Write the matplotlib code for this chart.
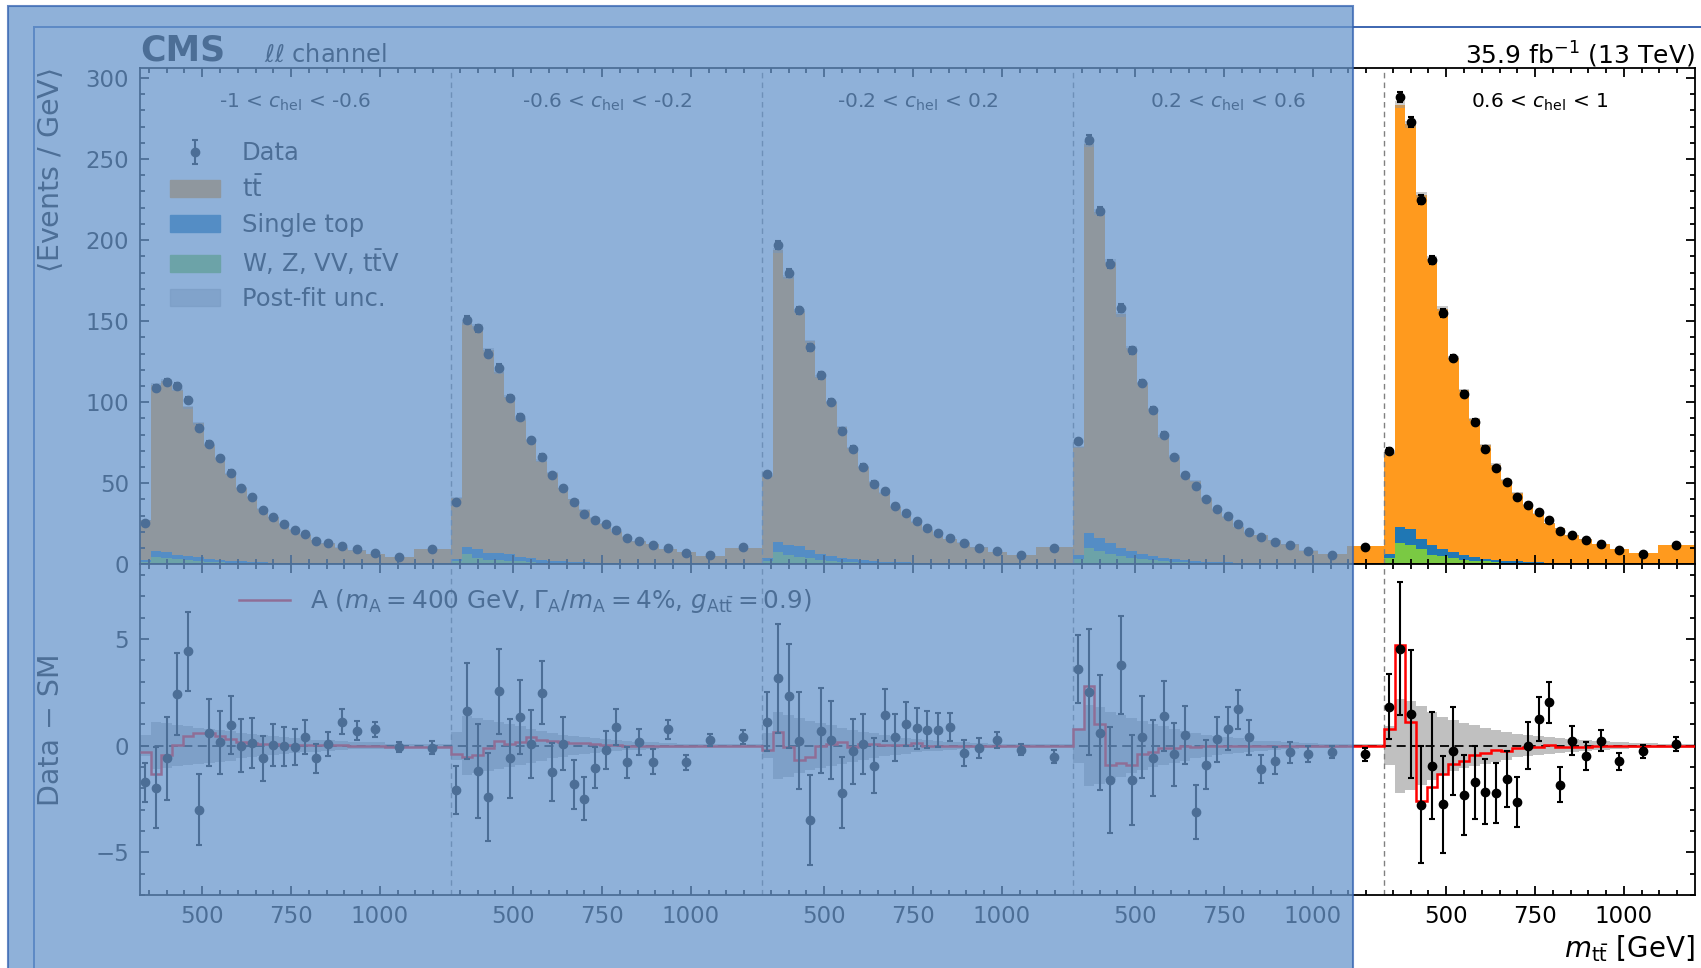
import numpy as np
import matplotlib
matplotlib.use("Agg")
import matplotlib.pyplot as plt
from matplotlib.patches import Rectangle, Patch
from matplotlib.lines import Line2D

plt.rcParams['font.family'] = 'DejaVu Sans'
plt.rcParams['mathtext.fontset'] = 'dejavusans'
plt.rcParams['axes.linewidth'] = 1.3

# m_tt binning of one c_hel block (GeV)
edges = [325, 355, 385, 415, 445, 475, 505, 535, 565, 595, 625, 655, 685, 715,
         745, 775, 805, 835, 875, 910, 960, 1015, 1095, 1200]
block_labels = ["-1 < $c_{\\mathrm{hel}}$ < -0.6", "-0.6 < $c_{\\mathrm{hel}}$ < -0.2",
                "-0.2 < $c_{\\mathrm{hel}}$ < 0.2", "0.2 < $c_{\\mathrm{hel}}$ < 0.6",
                "0.6 < $c_{\\mathrm{hel}}$ < 1"]

# data, events / GeV
d1 = [25.3, 108.7, 112.6, 110.2, 101.4, 84.0, 74.3, 65.5, 56.6, 47.3, 41.6, 33.5,
      29.0, 24.9, 21.2, 18.7, 14.4, 13.0, 11.3, 9.3, 7.2, 4.3, 9.3]
d2 = [38.7, 150.9, 145.5, 129.9, 121.3, 102.9, 90.8, 76.6, 66.5, 55.0, 46.9, 38.3,
      31.1, 27.5, 24.7, 21.0, 16.2, 14.4, 11.9, 10.1, 6.8, 5.6, 10.7]
d3 = [55.8, 197.0, 179.5, 156.6, 134.0, 116.5, 100.2, 82.5, 71.4, 60.3, 49.8, 45.3,
      36.0, 31.7, 26.9, 22.2, 19.1, 16.4, 13.0, 10.3, 8.0, 5.6, 10.3]
d4 = [76.0, 262.0, 218.0, 185.0, 158.0, 132.0, 112.0, 95.0, 80.0, 66.0, 55.0, 48.0,
      40.0, 34.0, 30.0, 25.0, 20.0, 17.0, 14.0, 12.0, 8.0, 6.0, 10.7]
d5 = [70.2, 288.2, 273.0, 225.0, 187.5, 155.0, 127.2, 105.0, 87.7, 71.2, 59.3, 50.6,
      41.4, 36.6, 32.5, 27.4, 20.4, 18.3, 15.0, 12.7, 8.8, 6.6, 11.9]

# data - SM
r1 = [-1.72, -1.97, -0.60, 2.41, 4.42, -3.0, 0.60, 0.16, 0.97, 0.0, 0.11, -0.60,
      0.03, -0.02, -0.08, 0.41, -0.60, 0.08, 1.13, 0.71, 0.77, -0.05, -0.09]
r2 = [-2.08, 1.63, -1.21, -2.41, 2.54, -0.58, 1.33, 0.08, 2.49, -1.25, 0.09, -1.82,
      -2.48, -1.03, -0.20, 0.86, -0.78, 0.16, -0.75, 0.77, -0.78, 0.27, 0.41]
r3 = [1.13, 3.16, 2.34, 0.24, -3.49, 0.71, 0.27, -2.2, -0.27, 0.08, -0.95, 1.44,
      0.39, 1.0, 0.81, 0.75, 0.75, 0.88, -0.34, -0.11, 0.28, -0.19, -0.52]
r4 = [3.6, 2.5, 0.6, -1.6, 3.8, -1.6, 0.4, -0.6, 1.4, -0.4, 0.5, -3.1,
      -0.9, 0.3, 0.8, 1.7, 0.4, -1.1, -0.7, -0.3, -0.4, -0.3, -0.41]
r5 = [1.83, 4.55, 1.49, -2.77, -0.94, -2.74, -0.27, -2.30, -1.72, -2.15, -2.24, -1.57,
      -2.66, 0.0, 1.25, 2.04, -1.83, 0.24, -0.49, 0.24, -0.74, -0.27, 0.08]

# single top
st1 = [1.4, 3.4, 3.6, 3.0, 2.6, 2.2, 1.9, 1.6, 1.3, 1.1, 0.9, 0.8, 0.6, 0.5, 0.4, 0.35,
       0.3, 0.25, 0.2, 0.15, 0.1, 0.08, 0.1]
st2 = [1.2, 4.6, 5.1, 4.3, 4.2, 4.0, 2.5, 2.3, 1.6, 1.4, 1.1, 0.9, 0.7, 0.6, 0.5, 0.4,
       0.35, 0.3, 0.25, 0.2, 0.15, 0.1, 0.15]
st3 = [1.6, 6.2, 6.2, 6.5, 5.5, 3.9, 3.2, 2.4, 2.0, 1.6, 1.3, 1.0, 0.8, 0.7, 0.6, 0.5,
       0.4, 0.35, 0.3, 0.25, 0.2, 0.15, 0.15]
st4 = [2.5, 9.5, 8.0, 6.5, 5.2, 4.2, 3.4, 2.7, 2.1, 1.7, 1.4, 1.1, 0.9, 0.7, 0.6, 0.5,
       0.4, 0.35, 0.3, 0.25, 0.2, 0.15, 0.15]
st5 = [2.5, 10.2, 10.0, 6.4, 6.4, 4.4, 3.6, 2.7, 2.1, 1.6, 1.5, 1.2, 0.9, 0.7, 0.6, 0.5,
       0.4, 0.35, 0.3, 0.25, 0.2, 0.15, 0.15]

# W, Z, VV, ttV
wz1 = [1.2, 4.5, 3.8, 3.0, 2.4, 2.0, 1.6, 1.3, 1.0, 0.8, 0.7, 0.6, 0.5, 0.4, 0.35, 0.3,
       0.25, 0.2, 0.15, 0.12, 0.1, 0.08, 0.1]
wz2 = [2.0, 6.2, 4.1, 2.9, 2.6, 2.2, 1.8, 1.4, 1.1, 0.9, 0.75, 0.6, 0.5, 0.4, 0.35, 0.3,
       0.25, 0.2, 0.15, 0.12, 0.1, 0.08, 0.1]
wz3 = [2.0, 7.8, 5.8, 4.5, 3.6, 2.6, 2.2, 1.6, 1.3, 1.0, 0.85, 0.7, 0.55, 0.45, 0.4, 0.35,
       0.3, 0.25, 0.2, 0.15, 0.12, 0.1, 0.1]
wz4 = [3.0, 10.0, 8.5, 6.5, 5.0, 4.0, 3.1, 2.4, 1.9, 1.5, 1.2, 1.0, 0.8, 0.65, 0.55, 0.45,
       0.35, 0.3, 0.25, 0.2, 0.15, 0.1, 0.1]
wz5 = [3.7, 13.0, 12.0, 9.5, 5.8, 4.9, 3.7, 2.9, 2.3, 1.8, 1.4, 1.1, 0.9, 0.7, 0.6, 0.5,
       0.4, 0.3, 0.25, 0.2, 0.15, 0.1, 0.1]

# post-fit uncertainty (half width)
u1 = [0.5, 1.1, 1.05, 0.95, 0.9, 0.85, 0.8, 0.75, 0.7, 0.6, 0.55, 0.5, 0.45, 0.4, 0.35,
      0.32, 0.28, 0.25, 0.2, 0.18, 0.15, 0.1, 0.08]
u2 = [0.66, 1.37, 1.3, 1.2, 1.1, 1.0, 0.9, 0.8, 0.7, 0.6, 0.52, 0.45, 0.4, 0.35, 0.3,
      0.26, 0.22, 0.19, 0.16, 0.13, 0.1, 0.08, 0.06]
u3 = [0.6, 1.57, 1.45, 1.3, 1.15, 1.05, 0.95, 0.85, 0.75, 0.65, 0.57, 0.5, 0.43, 0.37, 0.32,
      0.27, 0.23, 0.19, 0.16, 0.13, 0.1, 0.08, 0.06]
u4 = [0.8, 1.9, 1.8, 1.6, 1.45, 1.3, 1.15, 1.0, 0.9, 0.8, 0.7, 0.6, 0.52, 0.45, 0.4,
      0.34, 0.28, 0.24, 0.2, 0.16, 0.12, 0.1, 0.08]
u5 = [0.9, 2.2, 2.1, 1.85, 1.6, 1.35, 1.2, 1.05, 0.95, 0.85, 0.75, 0.65, 0.55, 0.5, 0.45,
      0.4, 0.35, 0.3, 0.25, 0.2, 0.15, 0.12, 0.1]

# signal A(400 GeV) - SM
s1 = [-0.31, -1.33, -0.42, 0.03, 0.43, 0.59, 0.59, 0.47, 0.31, 0.16, 0.11, 0.08, 0.06,
      0.05, 0.04, 0.03, 0.02, 0.02, 0.01, 0.0, -0.02, -0.04, -0.05]
s2 = [-0.39, -0.55, -0.42, -0.11, 0.2, 0.08, 0.19, 0.39, 0.26, 0.23, 0.19, 0.11, 0.11,
      0.08, 0.03, 0.04, 0.0, -0.02, -0.02, -0.02, -0.02, -0.02, -0.03]
s3 = [-0.2, 0.66, -0.04, -0.67, -0.55, 0.0, 0.08, 0.16, -0.04, 0.08, 0.08, 0.03, 0.03,
      0.04, 0.11, 0.0, 0.0, -0.01, -0.01, -0.02, -0.02, -0.02, -0.02]
s4 = [0.8, 2.8, 1.0, -0.9, -0.8, -0.9, -0.4, -0.3, -0.1, -0.1, 0.0, -0.05, 0.0,
      0.0, 0.0, 0.0, 0.0, 0.0, -0.02, -0.02, -0.02, -0.02, -0.02]
s5 = [0.78, 4.7, 1.1, -2.58, -1.92, -1.35, -0.85, -0.73, -0.46, -0.35, -0.2, -0.26, -0.12,
      -0.08, -0.08, 0.03, -0.06, -0.06, -0.05, -0.03, -0.03, -0.03, -0.03]

data = [d1, d2, d3, d4, d5]
resid = [r1, r2, r3, r4, r5]
stop = [st1, st2, st3, st4, st5]
wzvv = [wz1, wz2, wz3, wz4, wz5]
unc = [u1, u2, u3, u4, u5]
sig = [s1, s2, s3, s4, s5]

c_tt = '#ff9a1e'
c_st = '#1f77b4'
c_wz = '#7ac943'

# concatenate the five blocks on one axis
nblk = len(data)
e = np.array(edges, float)
shift = e[-1] - e[0]
x_edges = np.concatenate([e[:-1] + k * shift for k in range(nblk)] + [[e[-1] + (nblk - 1) * shift]])
widths = np.tile(np.diff(e), nblk)
x_mid = np.concatenate([0.5 * (e[:-1] + e[1:]) + k * shift for k in range(nblk)])

D = np.concatenate(data)
R = np.concatenate(resid)
ST = np.concatenate(stop)
WZ = np.concatenate(wzvv)
U = np.concatenate(unc)
S = np.concatenate(sig)
SM = D - R
err = np.sqrt(D / widths)

fig = plt.figure(figsize=(17.01, 9.68), dpi=100)
ax = fig.add_axes([0.0823, 0.41705, 0.91417, 0.5124])
ax2 = fig.add_axes([0.0823, 0.07541, 0.91417, 0.34163], sharex=ax)

ax.stairs(WZ, x_edges, baseline=0, fill=True, color=c_wz, lw=0)
ax.stairs(WZ + ST, x_edges, baseline=WZ, fill=True, color=c_st, lw=0)
ax.stairs(SM, x_edges, baseline=WZ + ST, fill=True, color=c_tt, lw=0)
ax.stairs(SM + U, x_edges, baseline=SM - U, fill=True, color='#999999', alpha=0.5, lw=0)
hd = ax.errorbar(x_mid, D, yerr=err, fmt='o', color='black', ms=6, capsize=2.5,
                 elinewidth=1.5, capthick=1.5, zorder=5)

ax2.stairs(U, x_edges, baseline=-U, fill=True, color='#c0c0c0', lw=0)
ax2.axhline(0, color='black', ls=(0, (5, 3)), lw=1.3, zorder=2)
ax2.stairs(S, x_edges, baseline=None, color='red', lw=1.8, zorder=3)
ax2.errorbar(x_mid, R, yerr=err, fmt='o', color='black', ms=6, capsize=2.5,
             elinewidth=1.5, capthick=1.5, zorder=5)

for k in range(1, nblk):
    for a in (ax, ax2):
        a.axvline(e[0] + k * shift, color='gray', ls=(0, (4, 3)), lw=1.0, zorder=1)

for k in range(nblk):
    ax.text(0.5 * (e[0] + e[-1]) + k * shift, 0.9306, block_labels[k],
            transform=ax.get_xaxis_transform(), ha='center', va='center', fontsize=14.5)

major = []
minor = []
for k in range(nblk):
    for m in range(350, 1200, 50):
        (major if m in (500, 750, 1000) else minor).append(m + k * shift)
ax2.set_xticks(major)
ax2.set_xticklabels(['500', '750', '1000'] * nblk)
ax2.set_xticks(minor, minor=True)
ax2.set_xlim(e[0], e[-1] + (nblk - 1) * shift)
ax.tick_params(labelbottom=False)

ax.set_ylim(0, 306)
ax.set_yticks(np.arange(0, 301, 50))
ax.set_yticks(np.arange(0, 306, 10), minor=True)
ax2.set_ylim(-7, 8.5)
ax2.set_yticks([-5, 0, 5])
ax2.set_yticklabels(['\u22125', '0', '5'])
ax2.set_yticks(np.arange(-7, 9, 1), minor=True)

for a in (ax, ax2):
    a.tick_params(which='both', direction='in', top=True, right=True, labelsize=16.5, width=1.3)
    a.tick_params(which='major', length=6.5, pad=8)
    a.tick_params(which='minor', length=3.6)
ax2.tick_params(axis='x', pad=7)

ax.set_ylabel('$\\langle$Events / GeV$\\rangle$', fontsize=20.5, loc='top')
ax2.set_ylabel('Data \u2212 SM', fontsize=20.5)
ax.yaxis.set_label_coords(-0.048, 1.0)
ax2.yaxis.set_label_coords(-0.048, 0.5)
ax2.set_xlabel('$m_{\\mathrm{t\\bar{t}}}$ [GeV]', fontsize=20, loc='right', labelpad=4)

ax.text(0.0, 1.015, 'CMS', transform=ax.transAxes, fontsize=25, fontweight='bold',
        ha='left', va='baseline')
ax.text(0.08, 1.012, '$\\ell\\ell$ channel', transform=ax.transAxes, fontsize=17.3,
        ha='left', va='baseline')
ax.text(1.0, 1.009, '35.9 fb$^{-1}$ (13 TeV)', transform=ax.transAxes, fontsize=18,
        ha='right', va='baseline')

handles = [hd, Patch(color=c_tt), Patch(color=c_st), Patch(color=c_wz),
           Patch(color='#999999', alpha=0.5)]
labels = ['Data', '$\\mathrm{t\\bar{t}}$', 'Single top', 'W, Z, VV, $\\mathrm{t\\bar{t}}$V',
          'Post-fit unc.']
ax.legend(handles, labels, loc='upper left', bbox_to_anchor=(0.0193, 0.853), frameon=False,
          fontsize=17.5, borderpad=0, borderaxespad=0, handlelength=2.05, handletextpad=0.9,
          labelspacing=0.42)
ax2.legend([Line2D([], [], color='red', lw=1.8)],
           ['A ($m_{\\mathrm{A}} = 400$ GeV, $\\Gamma_{\\mathrm{A}}/m_{\\mathrm{A}} = 4\\%$, '
            '$g_{\\mathrm{At\\bar{t}}} = 0.9$)'],
           loc='upper left', bbox_to_anchor=(0.0637, 0.93), frameon=False, fontsize=17.8,
           borderpad=0, borderaxespad=0, handlelength=2.05, handletextpad=0.8)

# selection highlight drawn over the left part of the picture
W, H = 1701.0, 968.0
fig.add_artist(Line2D([34 / W, 1.0], [1 - 27 / H, 1 - 27 / H], transform=fig.transFigure,
                      color='#3d66b0', lw=1.4, zorder=15))
fig.add_artist(Line2D([34 / W, 34 / W], [0, 1 - 27 / H], transform=fig.transFigure,
                      color='#3d66b0', lw=1.4, zorder=15))
fig.add_artist(Rectangle((8 / W, -0.01), (1353 - 8) / W, 1.01 - 6 / H, transform=fig.transFigure,
                         facecolor=(104 / 255, 150 / 255, 204 / 255), edgecolor='#2f5fae',
                         lw=1.5, alpha=0.74, zorder=20))

fig.savefig('out.png', dpi=100)
